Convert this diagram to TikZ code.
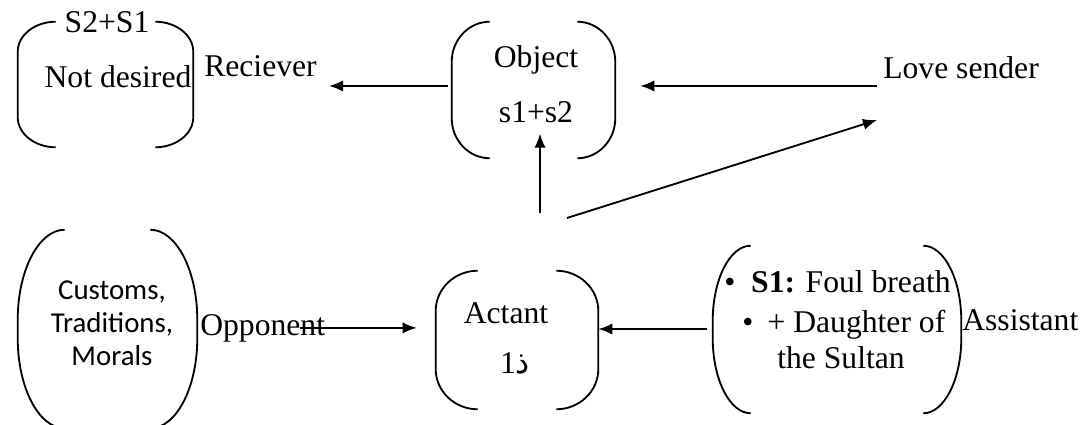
\documentclass[tikz,border=0pt]{standalone}
\usepackage{fontspec}
\setmainfont{Liberation Serif}
\newfontfamily\calibri{Carlito}
\newfontfamily\arabicfont[Script=Arabic]{DejaVu Sans}
\TeXXeTstate=1
\usetikzlibrary{arrows.meta,calc,fit}
\tikzstyle{box} = [inner sep=0pt]
\tikzstyle{paren} = [line width=1.3pt]
\tikzstyle{lbl} = [inner sep=0pt, font=\fontsize{22.5}{27}\selectfont]
\tikzstyle{arrow} = [line width=1.3pt,-{Latex[length=10pt,width=8pt]}]

% a pair of round brackets around a box: #1 box, #2 x radius, #3 y radius
\newcommand{\parens}[3]{%
  \draw[paren] ($(#1.north west)+(#2,0)$)
      .. controls ($(#1.north west)+(0.45*#2,0)$) and ($(#1.north west)+(0,0.45*#3)$) .. ($(#1.north west)+(0,#3)$)
      -- ($(#1.south west)+(0,-#3)$)
      .. controls ($(#1.south west)+(0,-0.45*#3)$) and ($(#1.south west)+(0.45*#2,0)$) .. ($(#1.south west)+(#2,0)$);
  \draw[paren] ($(#1.north east)+(-#2,0)$)
      .. controls ($(#1.north east)+(-0.45*#2,0)$) and ($(#1.north east)+(0,0.45*#3)$) .. ($(#1.north east)+(0,#3)$)
      -- ($(#1.south east)+(0,-#3)$)
      .. controls ($(#1.south east)+(0,-0.45*#3)$) and ($(#1.south east)+(-0.45*#2,0)$) .. ($(#1.south east)+(-#2,0)$);
}

\begin{document}
\begin{tikzpicture}[x=0.025cm, y=-0.025cm, font=\fontsize{22.5}{27}\selectfont]
		\useasboundingbox (0,0) rectangle (1082,425);

		% draw the bracket boxes first
		\node [box, fit={(18,22) (193,147)}] (wishbox) {};
		\node [box, fit={(452,22) (615,158)}] (objbox) {};
		\node [box, fit={(18,230) (197,428)}] (custbox) {};
		\node [box, fit={(436,271) (598,409)}] (actbox) {};
		\node [box, fit={(713,246) (961,413)}] (helpbox) {};
		\parens{wishbox}{38}{30}
		\parens{objbox}{38}{40}
		\parens{custbox}{47}{90}
		\parens{actbox}{42}{40}
		\parens{helpbox}{38}{75}

		% text inside the boxes
		\node [lbl, anchor=base] (wishtop) at (107,33) {S2+S1};
		\node [lbl, anchor=base] (wishtxt) at (118,88) {Not desired};
		\node [lbl, anchor=base] (objname) at (536,68) {Object};
		\node [lbl, anchor=base] (objval) at (536,123) {s1+s2};
		\node [lbl, align=center, font=\calibri\fontsize{20.5}{23.5}\selectfont] (custtxt) at (112,323) {Customs,\\Traditions,\\Morals};
		\node [lbl, anchor=base] (actname) at (506,323) {Actant};
		\node [lbl, anchor=base] (actval) at (515,373) {\beginR{\arabicfont ذ}1\endR};
		\node [lbl, anchor=base west] (help1) at (724,293) {•\hspace{.5em}\textbf{S1:} Foul breath};
		\node [lbl, anchor=base west] (help2) at (742,332) {•\hspace{.45em}+ Daughter of};
		\node [lbl, anchor=base west] (help3) at (777,368) {the Sultan};

		% role names beside the boxes
		\node [lbl, anchor=base west] (recv) at (204,77) {Reciever};
		\node [lbl, anchor=base west] (love) at (883,79) {Love sender};
		\node [lbl, anchor=base west] (opp) at (200,335) {Opponent};
		\node [lbl, anchor=base west] (assist) at (962,330) {Assistant};

		\coordinate (fork) at (540,213);
		\coordinate (forkr) at (567,218);
		\coordinate (lovein) at (877,120);

		% draw the edges
		\draw [arrow, shorten <=.1cm, shorten >=.3cm] ($(objbox.west)+(0,-4)$) -- ($(recv.east |- objbox.west)+(0,-4)$);
		\draw [arrow, shorten <=.15cm, shorten >=.625cm] ($(love.west |- objbox.east)+(0,-4)$) -- ($(objbox.east)+(0,-4)$);
		\draw [arrow, shorten >=.25cm] (fork) -- (fork |- objval.south);
		\draw [arrow] (forkr) -- (lovein);
		\draw [arrow, shorten <=-.625cm, shorten >=.475cm] (opp.east) -- (opp.east -| actbox.west);
		\draw [arrow, shorten <=.15cm] ($(helpbox.west)+(0,-0.5)$) -- ($(helpbox.west -| actbox.east)+(0,-0.5)$);
	\end{tikzpicture}
\end{document}
